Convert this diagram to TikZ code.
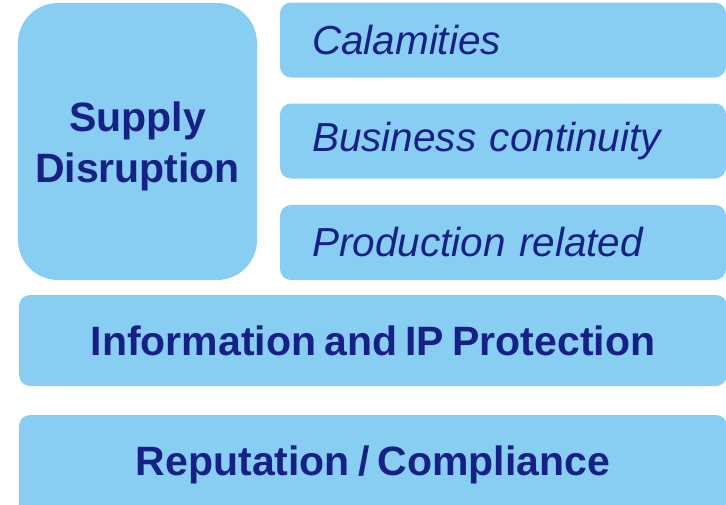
\documentclass[tikz,border=0pt]{standalone}
\usepackage{fontspec}
\setmainfont{Liberation Sans}[WordSpace=0.72]
\definecolor{boxfill}{RGB}{136,206,243}
\definecolor{navy}{RGB}{22,32,135}
\tikzset{
  riskbox/.style={fill=boxfill, draw=none, rounded corners=11pt, inner sep=0pt, text=navy},
  subbox/.style={riskbox, minimum width=446pt, minimum height=75pt, text width=382pt, inner xsep=32pt, align=left,
    font=\fontsize{40.5}{48}\selectfont\itshape},
  widebox/.style={riskbox, minimum width=708pt, minimum height=91pt, align=center,
    font=\fontsize{41}{50}\selectfont\bfseries}
}
\begin{document}
\begin{tikzpicture}[x=1pt,y=-1pt]
\useasboundingbox (0,0) rectangle (726,504);
\clip (0,0) rectangle (726,504);
\node[riskbox, rounded corners=40pt, minimum width=239pt, minimum height=277pt] (supply) at (137.5,141.5) {};
\node[text=navy, inner sep=0pt, align=center, font=\fontsize{41}{51}\selectfont\bfseries]
  (supplytext) at ([yshift=-5pt]supply.center) {Supply\\Disruption};
\node[subbox] (cal) at (503,40) {Calamities};
\node[subbox] (bus) at (503,141) {Business continuity};
\node[subbox] (prod) at (503,242.5) {Production related};
\node[widebox] (info) at (373,340.5) {Information and IP Protection};
\node[widebox, minimum height=100pt] (rep) at (373,465) {Reputation / Compliance};
\end{tikzpicture}
\end{document}
